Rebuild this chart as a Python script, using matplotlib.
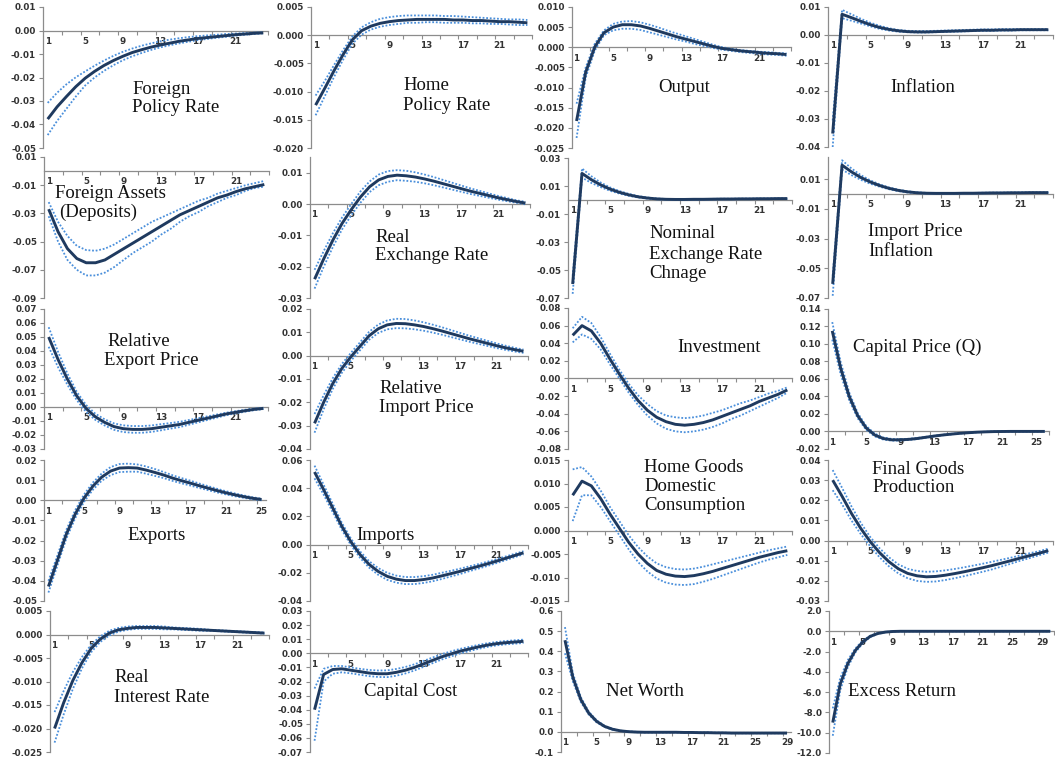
import matplotlib
matplotlib.use("Agg")
import matplotlib.pyplot as plt
from matplotlib.ticker import FixedLocator, FuncFormatter, NullFormatter
import numpy as np

W, H = 1055, 763

# ---- impulse responses: median (mean) with upper / lower bands ----
foreign_rate_mean = [-0.0377,-0.0325,-0.0281,-0.0239,-0.0203,-0.0174,-0.0149,-0.0128,-0.0110,-0.0094,-0.0082,-0.0071,-0.0062,-0.0054,-0.0046,-0.0040,-0.0034,-0.0030,-0.0026,-0.0022,-0.0018,-0.0015,-0.0012,-0.0010]
foreign_rate_up = [-0.0308,-0.0265,-0.0229,-0.0199,-0.0174,-0.0150,-0.0128,-0.0108,-0.0091,-0.0077,-0.0065,-0.0055,-0.0046,-0.0039,-0.0033,-0.0028,-0.0024,-0.0021,-0.0018,-0.0015,-0.0013,-0.0011,-0.0009,-0.0008]
foreign_rate_lo = [-0.0445,-0.0385,-0.0333,-0.0281,-0.0234,-0.0200,-0.0172,-0.0148,-0.0127,-0.0110,-0.0096,-0.0083,-0.0072,-0.0063,-0.0055,-0.0048,-0.0041,-0.0036,-0.0031,-0.0027,-0.0022,-0.0018,-0.0015,-0.0012]

home_rate_mean = [-0.0124,-0.0094,-0.0063,-0.0034,-0.0008,0.0008,0.0016,0.0021,0.0024,0.0026,0.0027,0.0028,0.0028,0.0028,0.0028,0.0027,0.0027,0.0026,0.0026,0.0025,0.0024,0.0024,0.0023,0.0022]
home_rate_up = [-0.0107,-0.0081,-0.0053,-0.0026,-0.0002,0.0014,0.0023,0.0029,0.0032,0.0034,0.0035,0.0035,0.0035,0.0035,0.0034,0.0034,0.0033,0.0032,0.0031,0.0030,0.0029,0.0028,0.0028,0.0027]
home_rate_lo = [-0.0142,-0.0108,-0.0074,-0.0043,-0.0015,0.0001,0.0010,0.0015,0.0018,0.0020,0.0022,0.0022,0.0023,0.0023,0.0022,0.0022,0.0022,0.0021,0.0021,0.0020,0.0020,0.0019,0.0018,0.0018]

output_mean = [-0.0183,-0.0062,0.0001,0.0036,0.0050,0.0056,0.0056,0.0053,0.0047,0.0040,0.0033,0.0026,0.0020,0.0014,0.0008,0.0002,-0.0003,-0.0006,-0.0009,-0.0011,-0.0013,-0.0015,-0.0016,-0.0018]
output_up = [-0.0140,-0.0050,0.0009,0.0042,0.0058,0.0064,0.0065,0.0062,0.0056,0.0049,0.0041,0.0034,0.0027,0.0020,0.0013,0.0006,0.0000,-0.0004,-0.0007,-0.0009,-0.0011,-0.0012,-0.0014,-0.0015]
output_lo = [-0.0225,-0.0075,-0.0008,0.0030,0.0042,0.0046,0.0046,0.0043,0.0037,0.0031,0.0025,0.0019,0.0014,0.0008,0.0003,-0.0002,-0.0006,-0.0009,-0.0012,-0.0014,-0.0016,-0.0018,-0.0019,-0.0021]

inflation_mean = [-0.0352,0.0074,0.0062,0.0049,0.0037,0.0027,0.0020,0.0015,0.0012,0.0011,0.0011,0.0012,0.0013,0.0014,0.0015,0.0016,0.0017,0.0017,0.0018,0.0018,0.0019,0.0019,0.0019,0.0019]
inflation_up = [-0.0305,0.0090,0.0074,0.0058,0.0044,0.0033,0.0024,0.0018,0.0015,0.0014,0.0014,0.0015,0.0016,0.0017,0.0018,0.0019,0.0020,0.0020,0.0021,0.0021,0.0021,0.0021,0.0021,0.0021]
inflation_lo = [-0.0400,0.0060,0.0051,0.0041,0.0031,0.0022,0.0016,0.0012,0.0010,0.0009,0.0009,0.0010,0.0011,0.0012,0.0013,0.0014,0.0015,0.0015,0.0016,0.0016,0.0017,0.0017,0.0017,0.0017]

assets_mean = [-0.027,-0.043,-0.055,-0.062,-0.065,-0.065,-0.063,-0.059,-0.055,-0.051,-0.047,-0.043,-0.039,-0.035,-0.031,-0.028,-0.025,-0.022,-0.019,-0.017,-0.0145,-0.0125,-0.011,-0.0095]
assets_up = [-0.022,-0.036,-0.046,-0.053,-0.056,-0.0565,-0.055,-0.052,-0.048,-0.044,-0.040,-0.036,-0.033,-0.030,-0.027,-0.024,-0.021,-0.019,-0.016,-0.014,-0.012,-0.010,-0.0085,-0.007]
assets_lo = [-0.032,-0.050,-0.063,-0.070,-0.074,-0.074,-0.072,-0.068,-0.063,-0.058,-0.054,-0.050,-0.045,-0.041,-0.036,-0.032,-0.029,-0.025,-0.022,-0.019,-0.017,-0.014,-0.012,-0.011]

rer_mean = [-0.0240,-0.0175,-0.0115,-0.0062,-0.0018,0.0022,0.0055,0.0077,0.0088,0.0092,0.0090,0.0086,0.0080,0.0073,0.0065,0.0057,0.0049,0.0041,0.0034,0.0027,0.0020,0.0014,0.0008,0.0003]
rer_up = [-0.0210,-0.0150,-0.0093,-0.0043,0.0000,0.0040,0.0072,0.0094,0.0105,0.0108,0.0106,0.0101,0.0094,0.0086,0.0077,0.0068,0.0059,0.0050,0.0042,0.0034,0.0026,0.0019,0.0012,0.0007]
rer_lo = [-0.0270,-0.0200,-0.0137,-0.0081,-0.0036,0.0004,0.0038,0.0060,0.0071,0.0076,0.0074,0.0071,0.0066,0.0060,0.0053,0.0046,0.0039,0.0032,0.0026,0.0020,0.0014,0.0009,0.0004,-0.0001]

ner_mean = [-0.0600,0.0190,0.0145,0.0108,0.0078,0.0055,0.0037,0.0023,0.0014,0.0008,0.0005,0.0004,0.0004,0.0005,0.0005,0.0006,0.0007,0.0007,0.0008,0.0008,0.0009,0.0009,0.0010,0.0010]
ner_up = [-0.0540,0.0225,0.0170,0.0125,0.0090,0.0064,0.0044,0.0028,0.0018,0.0011,0.0007,0.0006,0.0006,0.0007,0.0007,0.0008,0.0009,0.0009,0.0010,0.0010,0.0011,0.0011,0.0012,0.0012]
ner_lo = [-0.0670,0.0160,0.0122,0.0092,0.0066,0.0046,0.0030,0.0018,0.0010,0.0005,0.0003,0.0002,0.0002,0.0003,0.0003,0.0004,0.0005,0.0005,0.0006,0.0006,0.0007,0.0007,0.0008,0.0008]

imp_infl_mean = [-0.0605,0.0195,0.0150,0.0112,0.0082,0.0058,0.0039,0.0025,0.0015,0.0009,0.0006,0.0005,0.0005,0.0005,0.0006,0.0006,0.0007,0.0008,0.0008,0.0009,0.0009,0.0010,0.0010,0.0010]
imp_infl_up = [-0.0550,0.0228,0.0173,0.0128,0.0093,0.0066,0.0045,0.0030,0.0019,0.0012,0.0008,0.0007,0.0007,0.0007,0.0008,0.0008,0.0009,0.0010,0.0010,0.0011,0.0011,0.0012,0.0012,0.0012]
imp_infl_lo = [-0.0685,0.0165,0.0128,0.0096,0.0070,0.0050,0.0033,0.0020,0.0011,0.0006,0.0004,0.0003,0.0003,0.0003,0.0004,0.0004,0.0005,0.0006,0.0006,0.0007,0.0007,0.0008,0.0008,0.0008]

rel_exp_mean = [0.0500,0.0340,0.0200,0.0080,-0.0010,-0.0070,-0.0110,-0.0140,-0.0155,-0.0160,-0.0160,-0.0155,-0.0145,-0.0135,-0.0125,-0.0110,-0.0095,-0.0080,-0.0065,-0.0050,-0.0038,-0.0027,-0.0017,-0.0010]
rel_exp_up = [0.0570,0.0395,0.0240,0.0110,0.0015,-0.0048,-0.0088,-0.0117,-0.0131,-0.0136,-0.0136,-0.0132,-0.0123,-0.0115,-0.0106,-0.0093,-0.0080,-0.0067,-0.0054,-0.0041,-0.0030,-0.0020,-0.0011,-0.0005]
rel_exp_lo = [0.0430,0.0285,0.0160,0.0050,-0.0035,-0.0092,-0.0132,-0.0163,-0.0179,-0.0184,-0.0184,-0.0178,-0.0167,-0.0155,-0.0144,-0.0127,-0.0110,-0.0093,-0.0076,-0.0059,-0.0046,-0.0034,-0.0023,-0.0015]

rel_imp_mean = [-0.0290,-0.0200,-0.0120,-0.0055,-0.0005,0.0040,0.0085,0.0115,0.0132,0.0138,0.0137,0.0132,0.0125,0.0116,0.0106,0.0095,0.0084,0.0073,0.0063,0.0053,0.0043,0.0034,0.0026,0.0019]
rel_imp_up = [-0.0250,-0.0170,-0.0097,-0.0036,0.0012,0.0057,0.0102,0.0133,0.0151,0.0158,0.0157,0.0151,0.0143,0.0133,0.0122,0.0110,0.0098,0.0086,0.0075,0.0064,0.0053,0.0043,0.0034,0.0026]
rel_imp_lo = [-0.0330,-0.0230,-0.0143,-0.0074,-0.0022,0.0023,0.0068,0.0097,0.0113,0.0118,0.0117,0.0113,0.0107,0.0099,0.0090,0.0080,0.0070,0.0060,0.0051,0.0042,0.0033,0.0025,0.0018,0.0012]

invest_mean = [0.049,0.060,0.054,0.040,0.022,0.005,-0.011,-0.025,-0.036,-0.044,-0.049,-0.052,-0.053,-0.052,-0.050,-0.047,-0.043,-0.039,-0.035,-0.031,-0.026,-0.022,-0.018,-0.013]
invest_up = [0.057,0.070,0.063,0.047,0.028,0.010,-0.006,-0.019,-0.029,-0.037,-0.042,-0.044,-0.045,-0.044,-0.042,-0.039,-0.036,-0.032,-0.028,-0.025,-0.021,-0.017,-0.014,-0.010]
invest_lo = [0.041,0.050,0.045,0.033,0.016,0.000,-0.016,-0.030,-0.042,-0.051,-0.057,-0.060,-0.061,-0.060,-0.058,-0.055,-0.051,-0.046,-0.042,-0.037,-0.032,-0.027,-0.022,-0.016]

capq_mean = [0.1150,0.0720,0.0400,0.0180,0.0040,-0.0040,-0.0080,-0.0095,-0.0095,-0.0090,-0.0080,-0.0066,-0.0052,-0.0040,-0.0030,-0.0021,-0.0014,-0.0008,-0.0004,-0.0001,0.0000,0.0001,0.0001,0.0001,0.0001,0.0001]
capq_up = [0.1250,0.0790,0.0445,0.0210,0.0062,-0.0024,-0.0068,-0.0085,-0.0087,-0.0083,-0.0074,-0.0061,-0.0048,-0.0037,-0.0027,-0.0019,-0.0012,-0.0007,-0.0003,0.0000,0.0001,0.0002,0.0002,0.0002,0.0002,0.0002]
capq_lo = [0.1050,0.0650,0.0355,0.0150,0.0018,-0.0056,-0.0092,-0.0105,-0.0103,-0.0097,-0.0086,-0.0071,-0.0056,-0.0043,-0.0033,-0.0023,-0.0016,-0.0009,-0.0005,-0.0002,-0.0001,0.0000,0.0000,0.0000,0.0000,0.0000]

exports_mean = [-0.0428,-0.0300,-0.0170,-0.0070,0.0010,0.0070,0.0115,0.0145,0.0160,0.0162,0.0160,0.0150,0.0138,0.0125,0.0110,0.0097,0.0085,0.0072,0.0060,0.0048,0.0037,0.0027,0.0018,0.0010,0.0004]
exports_up = [-0.0400,-0.0275,-0.0148,-0.0050,0.0028,0.0088,0.0133,0.0165,0.0180,0.0182,0.0178,0.0168,0.0155,0.0140,0.0124,0.0110,0.0097,0.0083,0.0070,0.0057,0.0045,0.0034,0.0024,0.0015,0.0008]
exports_lo = [-0.0458,-0.0325,-0.0192,-0.0090,-0.0008,0.0052,0.0097,0.0125,0.0140,0.0142,0.0142,0.0132,0.0121,0.0110,0.0096,0.0084,0.0073,0.0061,0.0050,0.0039,0.0029,0.0020,0.0012,0.0005,0.0000]

imports_mean = [0.0515,0.0390,0.0260,0.0130,0.0020,-0.0070,-0.0140,-0.0190,-0.0225,-0.0245,-0.0255,-0.0255,-0.0248,-0.0237,-0.0222,-0.0206,-0.0190,-0.0172,-0.0155,-0.0137,-0.0118,-0.0098,-0.0078,-0.0058]
imports_up = [0.0560,0.0425,0.0290,0.0155,0.0043,-0.0047,-0.0117,-0.0166,-0.0200,-0.0220,-0.0230,-0.0230,-0.0224,-0.0214,-0.0200,-0.0186,-0.0171,-0.0155,-0.0139,-0.0122,-0.0104,-0.0085,-0.0066,-0.0047]
imports_lo = [0.0470,0.0355,0.0230,0.0105,-0.0003,-0.0093,-0.0163,-0.0214,-0.0250,-0.0270,-0.0280,-0.0280,-0.0272,-0.0260,-0.0244,-0.0226,-0.0209,-0.0189,-0.0171,-0.0152,-0.0132,-0.0111,-0.0090,-0.0069]

home_cons_mean = [0.0075,0.0105,0.0095,0.0068,0.0035,0.0005,-0.0025,-0.0050,-0.0070,-0.0085,-0.0093,-0.0097,-0.0098,-0.0096,-0.0092,-0.0087,-0.0081,-0.0075,-0.0069,-0.0063,-0.0057,-0.0052,-0.0047,-0.0043]
home_cons_up = [0.0130,0.0135,0.0115,0.0085,0.0050,0.0020,-0.0010,-0.0035,-0.0055,-0.0070,-0.0078,-0.0082,-0.0083,-0.0081,-0.0077,-0.0072,-0.0067,-0.0062,-0.0057,-0.0052,-0.0047,-0.0042,-0.0038,-0.0034]
home_cons_lo = [0.0020,0.0075,0.0075,0.0050,0.0020,-0.0010,-0.0040,-0.0067,-0.0087,-0.0102,-0.0111,-0.0115,-0.0116,-0.0114,-0.0109,-0.0103,-0.0096,-0.0089,-0.0082,-0.0075,-0.0068,-0.0062,-0.0057,-0.0052]

final_goods_mean = [0.0300,0.0220,0.0135,0.0060,-0.0005,-0.0060,-0.0105,-0.0140,-0.0163,-0.0175,-0.0180,-0.0178,-0.0172,-0.0164,-0.0155,-0.0145,-0.0135,-0.0124,-0.0112,-0.0100,-0.0087,-0.0075,-0.0063,-0.0050]
final_goods_up = [0.0350,0.0262,0.0170,0.0088,0.0018,-0.0038,-0.0083,-0.0118,-0.0140,-0.0151,-0.0155,-0.0153,-0.0148,-0.0141,-0.0133,-0.0124,-0.0115,-0.0105,-0.0095,-0.0085,-0.0074,-0.0063,-0.0053,-0.0040]
final_goods_lo = [0.0250,0.0180,0.0100,0.0032,-0.0028,-0.0083,-0.0128,-0.0163,-0.0187,-0.0200,-0.0205,-0.0203,-0.0196,-0.0187,-0.0177,-0.0166,-0.0155,-0.0143,-0.0129,-0.0115,-0.0100,-0.0087,-0.0073,-0.0060]

real_rate_mean = [-0.0200,-0.0145,-0.0098,-0.0060,-0.0030,-0.0010,0.0003,0.0010,0.0013,0.0015,0.0015,0.0015,0.0014,0.0013,0.0012,0.0011,0.0010,0.0009,0.0008,0.0007,0.0006,0.0005,0.0004,0.0003]
real_rate_up = [-0.0165,-0.0120,-0.0080,-0.0048,-0.0022,-0.0004,0.0008,0.0014,0.0017,0.0018,0.0018,0.0018,0.0017,0.0015,0.0014,0.0013,0.0012,0.0010,0.0009,0.0008,0.0007,0.0006,0.0005,0.0004]
real_rate_lo = [-0.0230,-0.0170,-0.0116,-0.0072,-0.0038,-0.0016,-0.0002,0.0006,0.0010,0.0012,0.0012,0.0012,0.0011,0.0011,0.0010,0.0009,0.0008,0.0008,0.0007,0.0006,0.0005,0.0004,0.0003,0.0002]

cap_cost_mean = [-0.0400,-0.0150,-0.0115,-0.0110,-0.0120,-0.0130,-0.0140,-0.0145,-0.0145,-0.0135,-0.0120,-0.0100,-0.0075,-0.0050,-0.0025,-0.0005,0.0015,0.0030,0.0045,0.0058,0.0068,0.0075,0.0080,0.0085]
cap_cost_up = [-0.0250,-0.0110,-0.0090,-0.0090,-0.0100,-0.0110,-0.0118,-0.0122,-0.0121,-0.0111,-0.0097,-0.0078,-0.0054,-0.0030,-0.0006,0.0013,0.0031,0.0045,0.0059,0.0071,0.0080,0.0087,0.0092,0.0097]
cap_cost_lo = [-0.0620,-0.0200,-0.0145,-0.0135,-0.0142,-0.0152,-0.0162,-0.0168,-0.0169,-0.0159,-0.0143,-0.0122,-0.0096,-0.0070,-0.0044,-0.0023,-0.0001,0.0015,0.0031,0.0045,0.0056,0.0063,0.0068,0.0073]

net_worth_mean = [0.455,0.270,0.160,0.093,0.052,0.027,0.013,0.005,0.001,-0.001,-0.002,-0.002,-0.002,-0.002,-0.002,-0.003,-0.003,-0.004,-0.004,-0.005,-0.005,-0.006,-0.006,-0.006,-0.006,-0.006,-0.006,-0.006,-0.006]
net_worth_up = [0.520,0.290,0.172,0.100,0.057,0.030,0.015,0.006,0.002,0.000,-0.001,-0.001,-0.001,-0.001,-0.001,-0.002,-0.002,-0.003,-0.003,-0.004,-0.004,-0.005,-0.005,-0.005,-0.005,-0.005,-0.005,-0.005,-0.005]
net_worth_lo = [0.390,0.250,0.148,0.086,0.047,0.024,0.011,0.004,0.000,-0.002,-0.003,-0.003,-0.003,-0.003,-0.003,-0.004,-0.004,-0.005,-0.005,-0.006,-0.006,-0.007,-0.007,-0.007,-0.007,-0.007,-0.007,-0.007,-0.007]

excess_mean = [-9.0,-5.2,-3.2,-1.9,-1.05,-0.5,-0.22,-0.08,-0.02,0.0,0.0,0.0,0.0,0.0,0.0,0.0,0.0,0.0,0.0,0.0,0.0,0.0,0.0,0.0,0.0,0.0,0.0,0.0,0.0,0.0]
excess_up = [-7.6,-4.6,-2.85,-1.7,-0.92,-0.43,-0.18,-0.06,-0.01,0.0,0.0,0.0,0.0,0.0,0.0,0.0,0.0,0.0,0.0,0.0,0.0,0.0,0.0,0.0,0.0,0.0,0.0,0.0,0.0,0.0]
excess_lo = [-10.3,-5.8,-3.55,-2.1,-1.18,-0.57,-0.26,-0.10,-0.03,0.0,0.0,0.0,0.0,0.0,0.0,0.0,0.0,0.0,0.0,0.0,0.0,0.0,0.0,0.0,0.0,0.0,0.0,0.0,0.0,0.0]

# ---- panel definitions: series, y axis (min, max, step), plot box in pixels, caption lines ----
panels = [
    dict(s=(foreign_rate_mean, foreign_rate_up, foreign_rate_lo), y=(-0.05, 0.01, 0.01), fmt="{:.2f}",
         box=(43, 7, 268, 148), cap=[("Foreign", 132, 89), ("Policy Rate", 132, 108)]),
    dict(s=(home_rate_mean, home_rate_up, home_rate_lo), y=(-0.020, 0.005, 0.005), fmt="{:.3f}",
         box=(311, 7, 532, 148), cap=[("Home", 403, 86), ("Policy Rate", 403, 105)]),
    dict(s=(output_mean, output_up, output_lo), y=(-0.025, 0.010, 0.005), fmt="{:.3f}",
         box=(572, 7, 791, 148), cap=[("Output", 658, 87)]),
    dict(s=(inflation_mean, inflation_up, inflation_lo), y=(-0.04, 0.01, 0.01), fmt="{:.2f}",
         box=(828, 7, 1053, 147), cap=[("Inflation", 890, 87)]),

    dict(s=(assets_mean, assets_up, assets_lo), y=(-0.09, 0.01, 0.02), fmt="{:.2f}",
         box=(44, 157, 269, 298), cap=[("Foreign Assets", 55, 193), ("(Deposits)", 59, 212)]),
    dict(s=(rer_mean, rer_up, rer_lo), y=(-0.03, 0.015, 0.01), fmt="{:.2f}",
         box=(310, 157, 530, 298), cap=[("Real", 375, 237), ("Exchange Rate", 375, 256)]),
    dict(s=(ner_mean, ner_up, ner_lo), y=(-0.07, 0.03, 0.02), fmt="{:.2f}",
         box=(568, 158, 792, 298), cap=[("Nominal", 649, 234), ("Exchange Rate", 649, 254), ("Chnage", 649, 273)]),
    dict(s=(imp_infl_mean, imp_infl_up, imp_infl_lo), y=(-0.07, 0.025, 0.02), fmt="{:.2f}",
         box=(828, 157, 1053, 298), cap=[("Import Price", 868, 232), ("Inflation", 868, 252)]),

    dict(s=(rel_exp_mean, rel_exp_up, rel_exp_lo), y=(-0.03, 0.07, 0.01), fmt="{:.2f}",
         box=(44, 309, 268, 449), cap=[("Relative", 107, 342), ("Export Price", 104, 361)]),
    dict(s=(rel_imp_mean, rel_imp_up, rel_imp_lo), y=(-0.04, 0.02, 0.01), fmt="{:.2f}",
         box=(310, 309, 528, 449), cap=[("Relative", 379, 389), ("Import Price", 379, 408)]),
    dict(s=(invest_mean, invest_up, invest_lo), y=(-0.08, 0.08, 0.02), fmt="{:.2f}",
         box=(568, 308, 792, 449), cap=[("Investment", 677, 347)]),
    dict(s=(capq_mean, capq_up, capq_lo), y=(-0.02, 0.14, 0.02), fmt="{:.2f}",
         box=(828, 309, 1049, 449), cap=[("Capital Price (Q)", 853, 347)]),

    dict(s=(exports_mean, exports_up, exports_lo), y=(-0.05, 0.02, 0.01), fmt="{:.2f}",
         box=(44, 460, 266, 601), cap=[("Exports", 127, 536)]),
    dict(s=(imports_mean, imports_up, imports_lo), y=(-0.04, 0.06, 0.02), fmt="{:.2f}",
         box=(310, 460, 528, 601), cap=[("Imports", 356, 536)]),
    dict(s=(home_cons_mean, home_cons_up, home_cons_lo), y=(-0.015, 0.015, 0.005), fmt="{:.3f}",
         box=(568, 460, 792, 601), cap=[("Home Goods", 644, 467), ("Domestic", 644, 486), ("Consumption", 644, 505)]),
    dict(s=(final_goods_mean, final_goods_up, final_goods_lo), y=(-0.03, 0.04, 0.01), fmt="{:.2f}",
         box=(828, 460, 1053, 601), cap=[("Final Goods", 872, 469), ("Production", 872, 488)]),

    dict(s=(real_rate_mean, real_rate_up, real_rate_lo), y=(-0.025, 0.005, 0.005), fmt="{:.3f}",
         box=(50, 611, 269, 752), cap=[("Real", 114, 678), ("Interest Rate", 114, 697)]),
    dict(s=(cap_cost_mean, cap_cost_up, cap_cost_lo), y=(-0.07, 0.03, 0.01), fmt="{:.2f}",
         box=(310, 611, 528, 752), cap=[("Capital Cost", 364, 691)]),
    dict(s=(net_worth_mean, net_worth_up, net_worth_lo), y=(-0.1, 0.6, 0.1), fmt="{:.1f}",
         box=(561, 611, 791, 752), cap=[("Net Worth", 606, 691)]),
    dict(s=(excess_mean, excess_up, excess_lo), y=(-12.0, 2.0, 2.0), fmt="{:.1f}",
         box=(829, 611, 1054, 753), cap=[("Excess Return", 848, 691)]),
]

MEAN_COLOR = "#1F3A5F"
BAND_COLOR = "#4A8FDB"
AXIS_COLOR = "#8C8C8C"
TICK_COLOR = "#333333"

fig = plt.figure(figsize=(W / 100, H / 100), dpi=100)
fig.patch.set_facecolor("white")


def tick_formatter(fmt):
    def f(v, _):
        v = round(v, 6) + 0.0
        return fmt.format(v)
    return FuncFormatter(f)


for p in panels:
    l, t, r, b = p["box"]
    ax = fig.add_axes([l / W, 1 - b / H, (r - l) / W, (b - t) / H])
    mean, up, lo = p["s"]
    n = len(mean)
    x = np.arange(1, n + 1)

    ax.plot(x, up, color=BAND_COLOR, lw=1.3, ls=(0, (1, 1)), zorder=3)
    ax.plot(x, lo, color=BAND_COLOR, lw=1.3, ls=(0, (1, 1)), zorder=3)
    ax.plot(x, mean, color=MEAN_COLOR, lw=2.1, zorder=4, solid_capstyle="butt")

    ymin, ymax, step = p["y"]
    ax.set_xlim(0.5, n + 0.5)
    ax.set_ylim(ymin, ymax)

    # horizontal axis at zero, category labels every fourth period
    for side in ("top", "right"):
        ax.spines[side].set_visible(False)
    ax.spines["bottom"].set_position(("data", 0))
    ax.spines["bottom"].set_color(AXIS_COLOR)
    ax.spines["bottom"].set_linewidth(0.9)
    ax.spines["left"].set_color(AXIS_COLOR)
    ax.spines["left"].set_linewidth(0.9)
    ax.spines["bottom"].set_zorder(2)

    ax.xaxis.set_major_locator(FixedLocator(list(range(1, n + 1, 4))))
    ax.xaxis.set_minor_locator(FixedLocator(list(np.arange(2.5, n + 0.6, 2))))
    ax.xaxis.set_minor_formatter(NullFormatter())
    ax.tick_params(axis="x", which="major", length=0, pad=4.5, labelsize=6.3,
                   labelcolor=TICK_COLOR)
    ax.tick_params(axis="x", which="minor", length=3, direction="out", color=AXIS_COLOR, width=0.8)
    for lab in ax.get_xticklabels():
        lab.set_fontweight("bold")

    # value labels start at the axis minimum and never pass the maximum
    nt = int(np.floor((ymax - ymin) / step + 1e-6)) + 1
    yt = [ymin + k * step for k in range(nt)]
    ax.yaxis.set_major_locator(FixedLocator(yt))
    ax.yaxis.set_major_formatter(tick_formatter(p["fmt"]))
    ax.tick_params(axis="y", length=3, direction="out", color=AXIS_COLOR, width=0.8,
                   labelsize=6.3, labelcolor=TICK_COLOR, pad=2)
    for lab in ax.get_yticklabels():
        lab.set_fontweight("bold")
    ax.patch.set_alpha(0)

    for txt, tx, ty in p["cap"]:
        fig.text(tx / W, 1 - ty / H, txt, ha="left", va="center",
                 family="Liberation Serif", fontsize=13.5, color="#111111")

fig.savefig("out.png", dpi=100, facecolor="white")
